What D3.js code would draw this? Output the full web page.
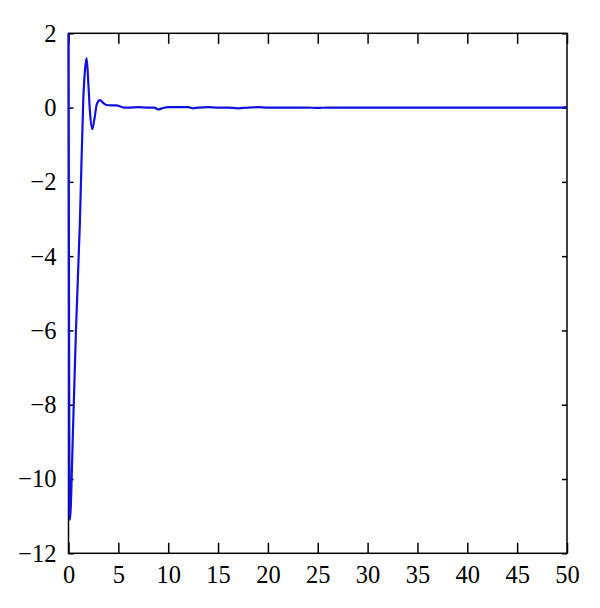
<!DOCTYPE html>
<html>
<head>
<meta charset="utf-8">
<script src="https://cdn.jsdelivr.net/npm/d3@7"></script>
<style>
  html, body { margin: 0; padding: 0; background: #fff; }
  svg { display: block; }
  text { font-family: "Liberation Serif", "DejaVu Serif", serif; font-size: 24.5px; fill: #000; }
</style>
</head>
<body>
<svg id="chart" width="600" height="608"></svg>
<script>
// Data
const tValues = [0, 0.05, 0.1, 0.15, 0.25, 0.42, 0.75, 1.15, 1.48, 1.65, 1.82, 1.98, 2.15, 2.39, 2.6, 2.85, 3.16, 3.5, 3.8, 4.3, 4.8, 5.2, 5.6, 6, 7, 8, 8.6, 9, 9.5, 10, 11, 12, 12.5, 13, 14, 15, 16, 17, 18, 19, 20, 22, 24, 25, 26, 28, 30, 35, 40, 45, 49.5, 50];
const yValues = [2, -5, -10.8, -11.1, -10.6, -8.95, -5.99, -3.03, 0.2, 1.0, 1.33, 0.7, -0.1, -0.58, -0.3, 0.1, 0.2, 0.12, 0.07, 0.06, 0.06, 0.03, 0.0, 0.0, 0.01, 0.0, 0.0, -0.05, -0.01, 0.01, 0.01, 0.01, -0.02, 0.0, 0.01, 0.0, 0.0, -0.02, 0.0, 0.01, 0.0, 0.0, 0.0, -0.01, 0.0, 0.0, 0.0, 0.0, 0.0, 0.0, 0.0, 0.02];
const xTicks = [0, 5, 10, 15, 20, 25, 30, 35, 40, 45, 50];
const yTicks = [2, 0, -2, -4, -6, -8, -10, -12];

(function () {
const svg = d3.select("#chart");
const pL = 68.5, pR = 567, pT = 33.3, pB = 553.3;

const x = d3.scaleLinear().domain([0, 50]).range([pL, pR]);
const y = d3.scaleLinear().domain([-12, 2]).range([pB, pT]);

const fmt = v => (v < 0 ? "\u2212" + Math.abs(v) : String(v));

const defs = svg.append("defs");
defs.append("clipPath").attr("id", "clip")
  .append("rect").attr("x", pL - 2).attr("y", pT).attr("width", pR - pL + 2).attr("height", pB - pT);

const pts = tValues.map((t, i) => [t, yValues[i]]);
const lineGen = d3.line().x(d => x(d[0])).y(d => y(d[1])).curve(d3.curveMonotoneX);

// Axes (ticks inward)
const xBottom = d3.axisBottom(x).tickValues(xTicks).tickSizeInner(-10.5).tickSizeOuter(0).tickPadding(12).tickFormat(fmt);
const xTop = d3.axisTop(x).tickValues(xTicks).tickSizeInner(-10.5).tickSizeOuter(0).tickFormat("");
const yLeft = d3.axisLeft(y).tickValues(yTicks).tickSizeInner(-5).tickSizeOuter(0).tickPadding(12).tickFormat(fmt);
const yRight = d3.axisRight(y).tickValues(yTicks).tickSizeInner(-5).tickSizeOuter(0).tickFormat("");

function style(g) {
  g.select(".domain").remove();
  g.selectAll("line").attr("stroke", "#000").attr("stroke-width", 1.5);
  g.selectAll("text").attr("font-family", null).attr("font-size", null);
}

svg.append("g").attr("transform", `translate(0,${pB})`).call(xBottom).call(style);
svg.append("g").attr("transform", `translate(0,${pT})`).call(xTop).call(style);
svg.append("g").attr("transform", `translate(${pL},0)`).call(yLeft).call(style);
svg.append("g").attr("transform", `translate(${pR},0)`).call(yRight).call(style);

// Frame
svg.append("rect")
  .attr("x", pL).attr("y", pT).attr("width", pR - pL).attr("height", pB - pT)
  .attr("fill", "none").attr("stroke", "#000").attr("stroke-width", 1.5);

// Data line
svg.append("path")
  .datum(pts)
  .attr("clip-path", "url(#clip)")
  .attr("fill", "none")
  .attr("stroke", "#1010e0")
  .attr("stroke-width", 2.2)
  .attr("stroke-linejoin", "round")
  .attr("d", lineGen);
})();
</script>
</body>
</html>
